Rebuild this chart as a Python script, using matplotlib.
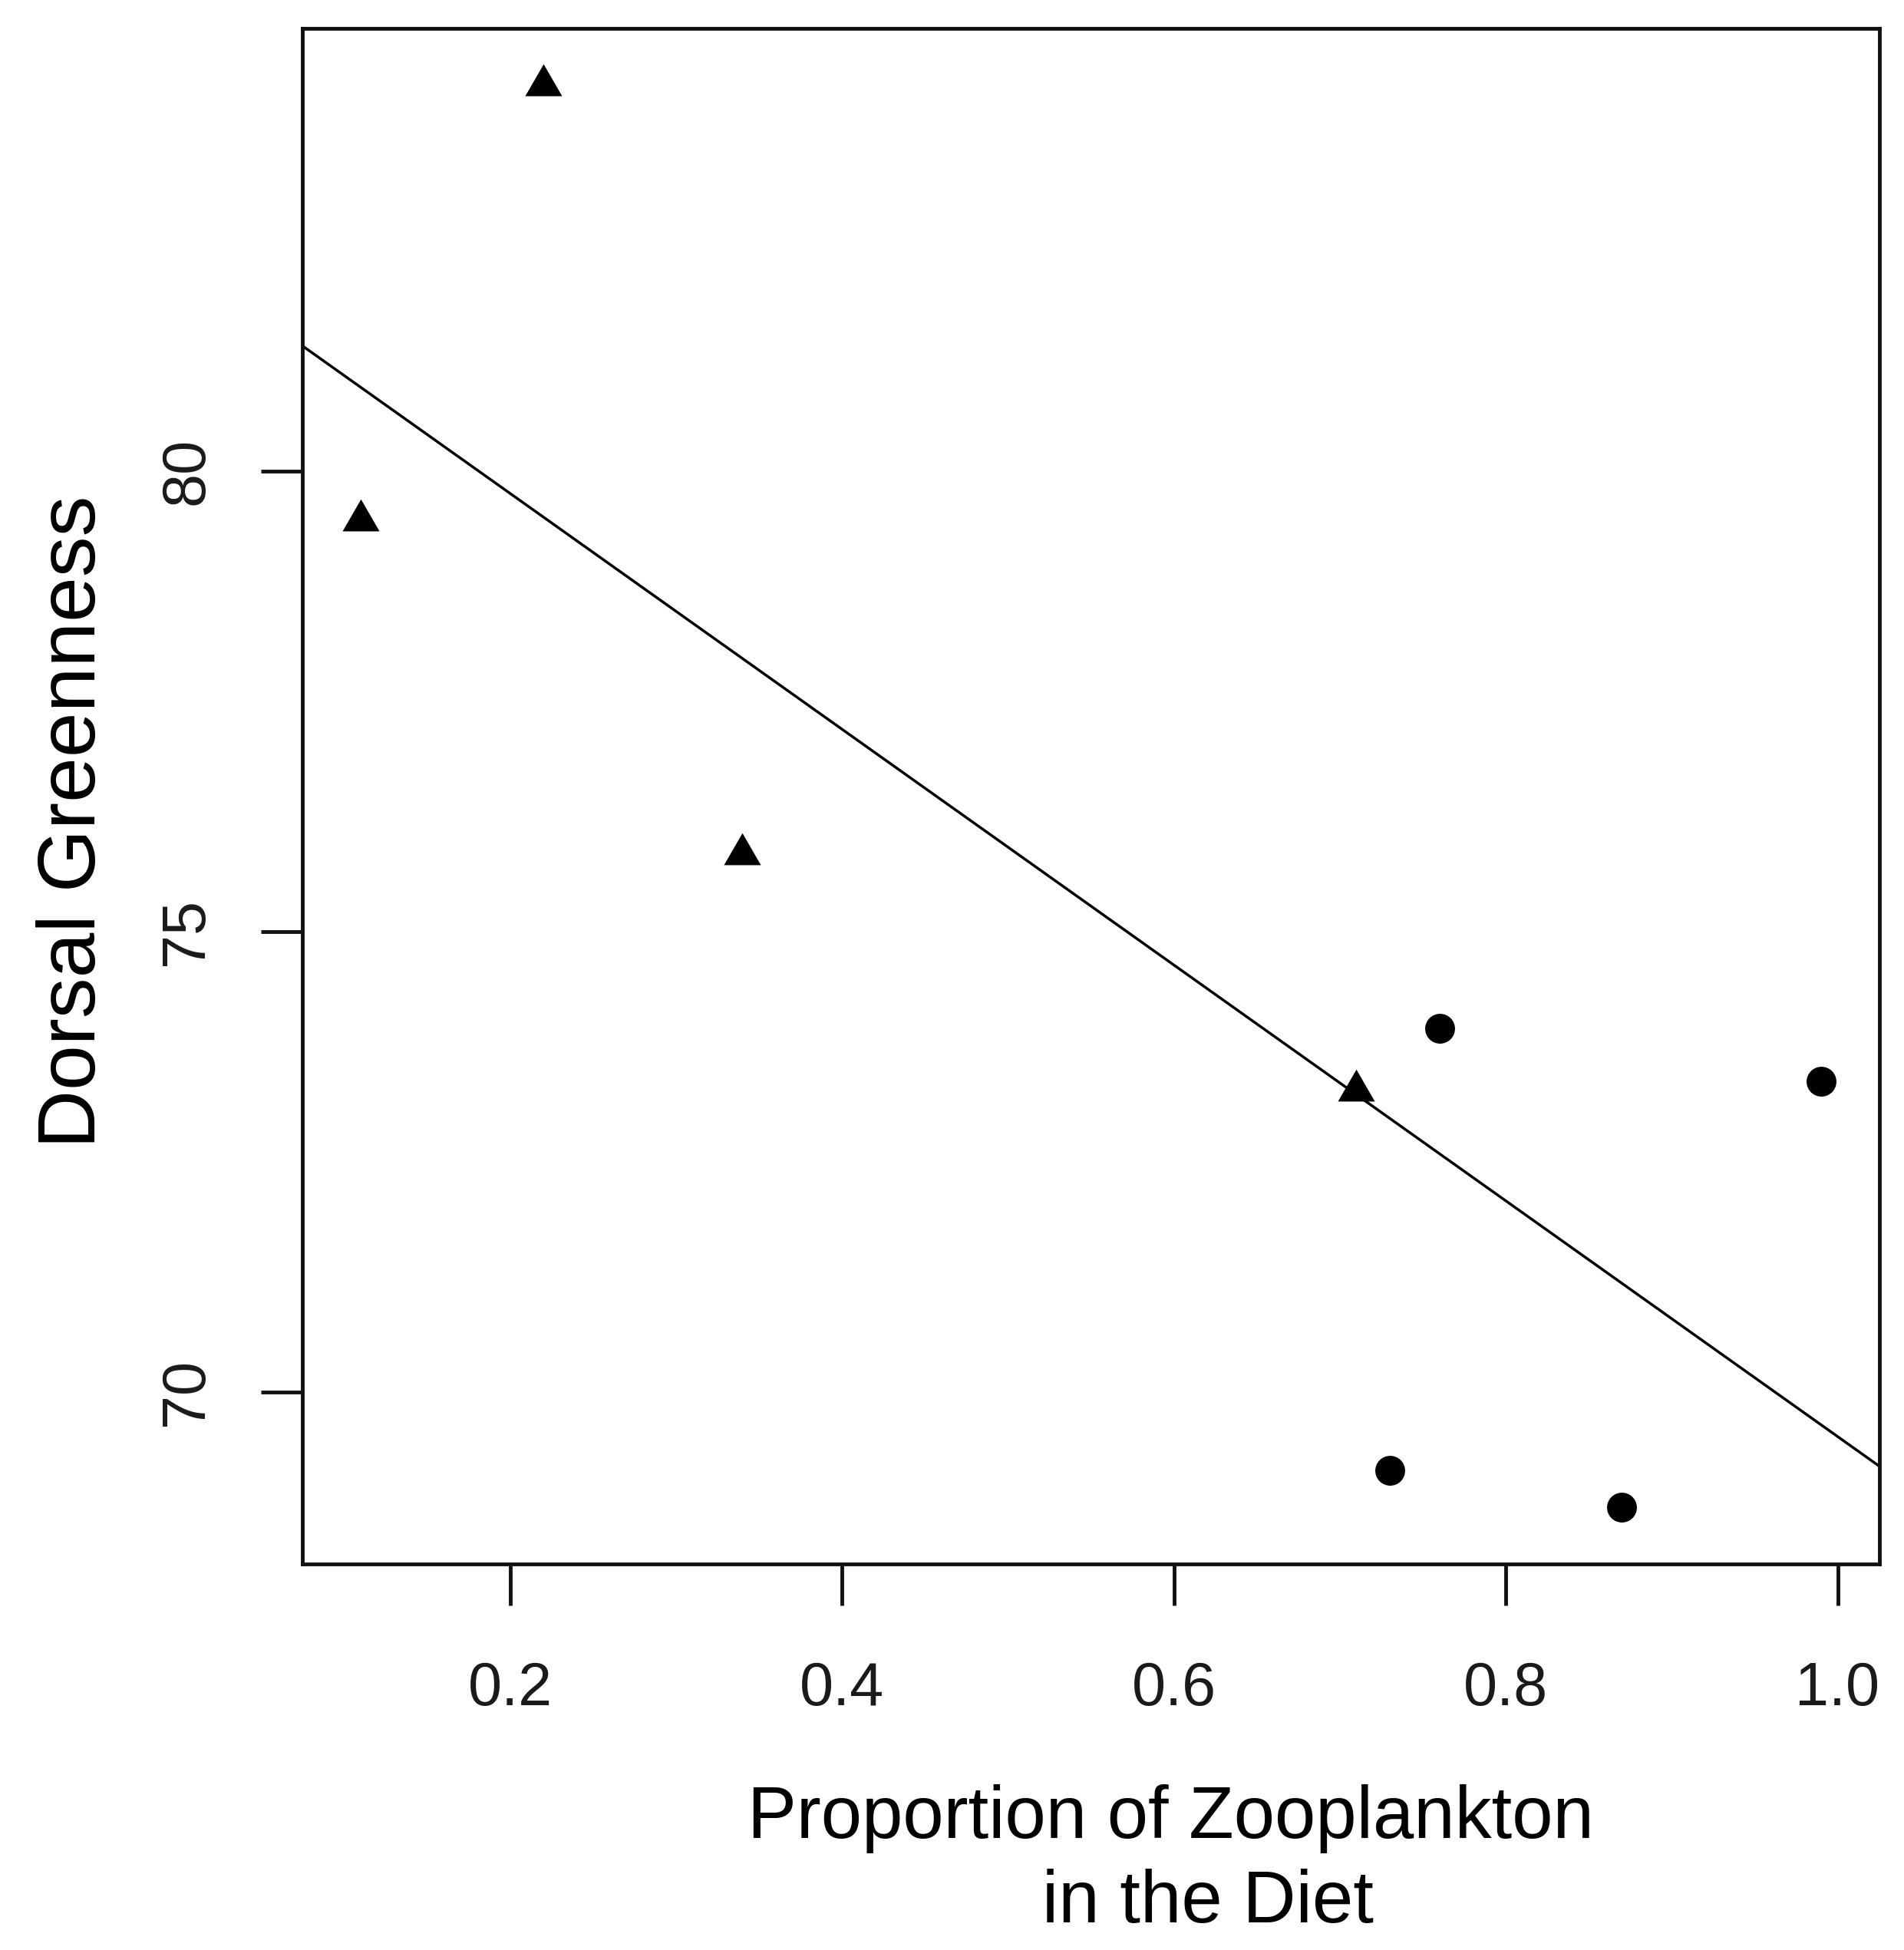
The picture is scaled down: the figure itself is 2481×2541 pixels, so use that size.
import numpy as np
import matplotlib
matplotlib.use("Agg")
import matplotlib.pyplot as plt

#----------DATA----------
# diet groups: triangles = low zooplankton fish, circles = high zooplankton fish
tri_zoo = [0.11, 0.22, 0.34, 0.71]
tri_green = [79.47, 84.19, 75.84, 73.27]

circ_zoo = [0.73, 0.76, 0.87, 0.99]
circ_green = [69.15, 73.95, 68.75, 73.37]

x_ticks = [0.2, 0.4, 0.6, 0.8, 1.0]
x_tick_labels = ["0.2", "0.4", "0.6", "0.8", "1.0"]
y_ticks = [70, 75, 80]
y_tick_labels = ["70", "75", "80"]

x_title = "Proportion of Zooplankton"
x_title_2 = "in the Diet"
y_title = "Dorsal Greenness"

#----------FIGURE----------
plt.rcParams["font.family"] = ["Liberation Sans", "DejaVu Sans"]

fig = plt.figure(figsize=(24.81, 25.41), dpi=100)
ax = fig.add_axes([0.1588, 0.1980, 0.9871 - 0.1588, 0.9854 - 0.1980])

# equilateral triangle like R's pch 17
tri_marker = [(0, 1), (-0.866, -0.5), (0.866, -0.5), (0, 1)]

ax.plot(tri_zoo, tri_green, linestyle="none", marker=tri_marker,
        markersize=40, color="black", markeredgewidth=0)
ax.plot(circ_zoo, circ_green, linestyle="none", marker="o",
        markersize=28, color="black", markeredgewidth=0)

# regression line over all fish (abline of lm)
all_zoo = np.array(tri_zoo + circ_zoo)
all_green = np.array(tri_green + circ_green)
slope, intercept = np.polyfit(all_zoo, all_green, 1)
ax.axline((0, intercept), slope=slope, color="black", linewidth=2.5)

# R style 4% padding around data
xr = all_zoo.max() - all_zoo.min()
yr = all_green.max() - all_green.min()
ax.set_xlim(all_zoo.min() - 0.04 * xr, all_zoo.max() + 0.04 * xr)
ax.set_ylim(all_green.min() - 0.04 * yr, all_green.max() + 0.04 * yr)

ax.set_xticks(x_ticks)
ax.set_xticklabels(x_tick_labels)
ax.set_yticks(y_ticks)
ax.set_yticklabels(y_tick_labels, rotation=90, va="center")

for spine in ax.spines.values():
    spine.set_linewidth(3.5)
    spine.set_color("#111111")

ax.tick_params(axis="both", direction="out", length=39, width=3.5,
               color="#111111", labelsize=57, labelcolor="#1a1a1a")
ax.tick_params(axis="x", pad=52)
ax.tick_params(axis="y", pad=42)

#----------AXIS TITLES----------
fig.text(0.0500, 0.5785, y_title, rotation=90, rotation_mode="anchor",
         ha="center", va="baseline", fontsize=76, color="black")
fig.text(0.6147, 0.0575, x_title, ha="center", va="baseline",
         fontsize=69, color="black")
fig.text(0.6344, 0.0142, x_title_2, ha="center", va="baseline",
         fontsize=69, color="black")

fig.savefig("out.png", dpi=100, facecolor="white")
